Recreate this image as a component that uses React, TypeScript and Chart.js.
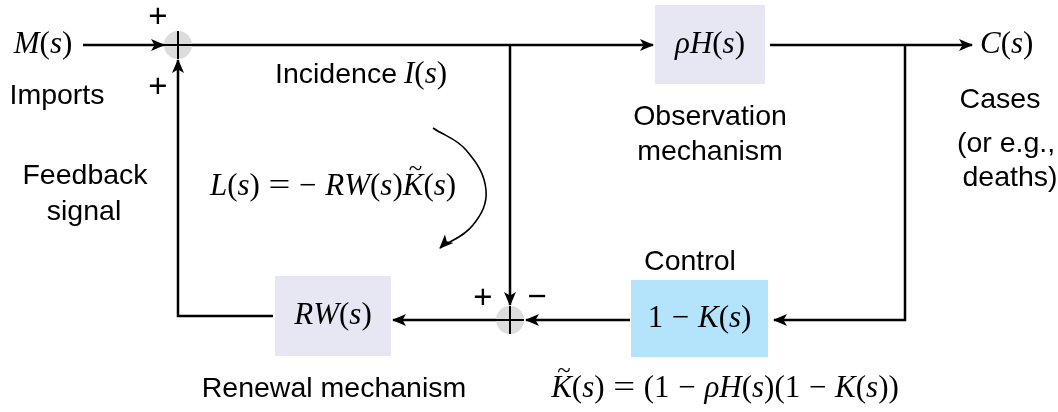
import React, { useEffect, useRef } from "react";
import { Chart, registerables } from "chart.js";
Chart.register(...registerables);

const W = 1058;
const H = 412;

// Connector polylines (diagram coordinates), arrow at the last point
const connectorPoints: number[][][] = [
  [[83, 45], [164, 45]],
  [[192, 45], [653, 45]],
  [[770, 45], [972, 45]],
  [[905, 45], [905, 320], [774, 320]],
  [[630, 320], [526, 320]],
  [[510, 45], [510, 305]],
  [[496, 320], [393, 320]],
  [[273, 316], [178, 316], [178, 60]],
];

// Curved annotation arrow
const curvePoints: number[][] = [
  [433, 128],
  [466, 150],
  [486, 190],
  [473, 225],
  [440, 248],
];

// Blocks
const boxLabels = ["ρH(s)", "1 − K(s)", "RW(s)"];
const boxX0 = [655, 631, 275];
const boxX1 = [765, 768, 391];
const boxY0 = [5, 280, 276];
const boxY1 = [84, 357, 356];
const boxColors = ["#e7e7f3", "#b3e4fc", "#e7e7f3"];

// Summing junctions
const junctionX = [178, 510];
const junctionY = [45, 320];
const junctionR = 14;

// Text labels
const textStrings = [
  "M(s)", "Imports", "+", "+", "Incidence", "I(s)", "C(s)",
  "Cases", "(or e.g.,", "deaths)", "Observation", "mechanism",
  "Feedback", "signal", "L(s) = − RW(s)~K(s)", "Control",
  "+", "−", "Renewal mechanism", "~K(s) = (1 − ρH(s)(1 − K(s))",
];
const textX = [
  43, 57, 158, 158, 275, 404, 980,
  1000, 1006, 1010, 710, 710,
  85, 84, 333, 690,
  483, 537, 334, 725,
];
const textY = [
  45, 96, 18, 88, 75, 75, 45,
  100, 144, 178, 117, 152,
  176, 212, 187, 262,
  299, 298, 389, 389,
];
const textKind = [
  "math", "sans", "sign", "sign", "sans", "math", "math",
  "sans", "sans", "sans", "sans", "sans",
  "sans", "sans", "math", "sans",
  "sign", "sign", "sans", "math",
];
const textAlign = [
  "center", "center", "center", "center", "left", "left", "left",
  "center", "center", "center", "center", "center",
  "center", "center", "center", "center",
  "center", "center", "center", "center",
];

const SANS = "Liberation Sans, Arial, sans-serif";
const SERIF = "Liberation Serif, Times New Roman, serif";
const SANS_SIZE = 28.5;
const SIGN_SIZE = 33;
const MATH_SIZE = 31;

type Tok = { t: string; it: boolean; tilde: boolean };

function tokenize(s: string): Tok[] {
  const toks: Tok[] = [];
  for (let i = 0; i < s.length; i++) {
    const c = s[i];
    if (c === "~") {
      toks.push({ t: s[i + 1], it: true, tilde: true });
      i++;
      continue;
    }
    toks.push({ t: c, it: /[A-Za-zρ]/.test(c), tilde: false });
  }
  return toks;
}

function drawMath(ctx: CanvasRenderingContext2D, s: string, x: number, y: number, size: number, align: string) {
  const toks = tokenize(s);
  const fontFor = (t: Tok) => `${t.it ? "italic " : ""}${size}px ${SERIF}`;
  const widths = toks.map((t) => {
    if (t.t === " ") return size * 0.28;
    ctx.font = fontFor(t);
    const w = ctx.measureText(t.t).width;
    return t.t === "=" ? w * 1.25 : w;
  });
  const total = widths.reduce((a, b) => a + b, 0);
  let cx = align === "center" ? x - total / 2 : x;
  ctx.textBaseline = "middle";
  ctx.textAlign = "left";
  toks.forEach((t, i) => {
    if (t.t === "=") {
      ctx.save();
      ctx.font = fontFor(t);
      ctx.translate(cx, y);
      ctx.scale(1.25, 1);
      ctx.fillText("=", 0, 0);
      ctx.restore();
    } else if (t.t !== " ") {
      ctx.font = fontFor(t);
      ctx.fillText(t.t, cx, y);
    }
    if (t.tilde) {
      ctx.save();
      ctx.font = `${size * 0.8}px ${SERIF}`;
      ctx.textAlign = "center";
      ctx.fillText("~", cx + widths[i] * 0.62, y - size * 0.55);
      ctx.restore();
    }
    cx += widths[i];
  });
}

function drawArrowHead(ctx: CanvasRenderingContext2D, tx: number, ty: number, fx: number, fy: number) {
  const ang = Math.atan2(ty - fy, tx - fx);
  const L = 13;
  const hw = 6;
  const notch = 3.5;
  ctx.save();
  ctx.translate(tx, ty);
  ctx.rotate(ang);
  ctx.beginPath();
  ctx.moveTo(1, 0);
  ctx.lineTo(-L, -hw);
  ctx.lineTo(-L + notch, 0);
  ctx.lineTo(-L, hw);
  ctx.closePath();
  ctx.fillStyle = "#000";
  ctx.fill();
  ctx.restore();
}

const diagramPlugin = {
  id: "diagram",
  beforeDatasetsDraw(chart: any) {
    const { ctx, scales } = chart;
    const xs = scales.x;
    const ys = scales.y;
    ctx.save();
    boxLabels.forEach((_, i) => {
      const x0 = xs.getPixelForValue(boxX0[i]);
      const x1 = xs.getPixelForValue(boxX1[i]);
      const y0 = ys.getPixelForValue(boxY0[i]);
      const y1 = ys.getPixelForValue(boxY1[i]);
      ctx.fillStyle = boxColors[i];
      ctx.fillRect(x0, y0, x1 - x0, y1 - y0);
    });
    junctionX.forEach((jx, i) => {
      const px = xs.getPixelForValue(jx);
      const py = ys.getPixelForValue(junctionY[i]);
      ctx.beginPath();
      ctx.arc(px, py, junctionR, 0, Math.PI * 2);
      ctx.fillStyle = "#dcdcdc";
      ctx.fill();
    });
    ctx.restore();
  },
  afterDatasetsDraw(chart: any) {
    const { ctx, scales } = chart;
    const xs = scales.x;
    const ys = scales.y;
    const P = (p: number[]) => [xs.getPixelForValue(p[0]), ys.getPixelForValue(p[1])];
    ctx.save();
    // junction crosses
    junctionX.forEach((jx, i) => {
      const px = xs.getPixelForValue(jx);
      const py = ys.getPixelForValue(junctionY[i]);
      ctx.strokeStyle = "#000";
      ctx.lineWidth = 2;
      ctx.beginPath();
      ctx.moveTo(px - junctionR, py);
      ctx.lineTo(px + junctionR, py);
      ctx.moveTo(px, py - junctionR);
      ctx.lineTo(px, py + junctionR);
      ctx.stroke();
    });
    // arrowheads
    connectorPoints.forEach((pts) => {
      const a = P(pts[pts.length - 2]);
      const b = P(pts[pts.length - 1]);
      drawArrowHead(ctx, b[0], b[1], a[0], a[1]);
    });
    {
      const a = P(curvePoints[curvePoints.length - 2]);
      const b = P(curvePoints[curvePoints.length - 1]);
      drawArrowHead(ctx, b[0], b[1], a[0] - 4, a[1] - 6);
    }
    // box labels
    ctx.fillStyle = "#000";
    boxLabels.forEach((lab, i) => {
      const cx = xs.getPixelForValue((boxX0[i] + boxX1[i]) / 2);
      const cy = ys.getPixelForValue((boxY0[i] + boxY1[i]) / 2);
      drawMath(ctx, lab, cx, cy, MATH_SIZE, "center");
    });
    // texts
    textStrings.forEach((s, i) => {
      const px = xs.getPixelForValue(textX[i]);
      const py = ys.getPixelForValue(textY[i]);
      ctx.fillStyle = "#000";
      if (textKind[i] === "math") {
        drawMath(ctx, s, px, py, MATH_SIZE, textAlign[i]);
      } else {
        const size = textKind[i] === "sign" ? SIGN_SIZE : SANS_SIZE;
        ctx.font = `${size}px ${SANS}`;
        ctx.textAlign = textAlign[i] as CanvasTextAlign;
        ctx.textBaseline = "middle";
        ctx.fillText(s, px, py);
      }
    });
    ctx.restore();
  },
};

export default function App() {
  const ref = useRef<HTMLCanvasElement>(null);
  useEffect(() => {
    document.body.style.margin = "0";
    if (!ref.current) return;
    const datasets: any[] = connectorPoints.map((pts) => ({
      data: pts.map((p) => ({ x: p[0], y: p[1] })),
      showLine: true,
      borderColor: "#000",
      borderWidth: 2.5,
      pointRadius: 0,
      tension: 0,
      fill: false,
      borderCapStyle: "butt",
      borderJoinStyle: "miter",
    }));
    datasets.push({
      data: curvePoints.map((p) => ({ x: p[0], y: p[1] })),
      showLine: true,
      borderColor: "#000",
      borderWidth: 1.6,
      pointRadius: 0,
      tension: 0.4,
      fill: false,
    });
    const chart = new Chart(ref.current, {
      type: "scatter",
      data: { datasets },
      options: {
        animation: false,
        responsive: false,
        maintainAspectRatio: false,
        layout: { padding: 0 },
        plugins: { legend: { display: false }, tooltip: { enabled: false } },
        scales: {
          x: { type: "linear", min: 0, max: W, display: false },
          y: { type: "linear", min: 0, max: H, reverse: true, display: false },
        },
      },
      plugins: [diagramPlugin],
    } as any);
    return () => chart.destroy();
  }, []);
  return (
    <div style={{ position: "absolute", left: 0, top: 0, width: W, height: H, background: "#fff" }}>
      <canvas ref={ref} width={W} height={H} style={{ width: W, height: H, display: "block" }} />
    </div>
  );
}
